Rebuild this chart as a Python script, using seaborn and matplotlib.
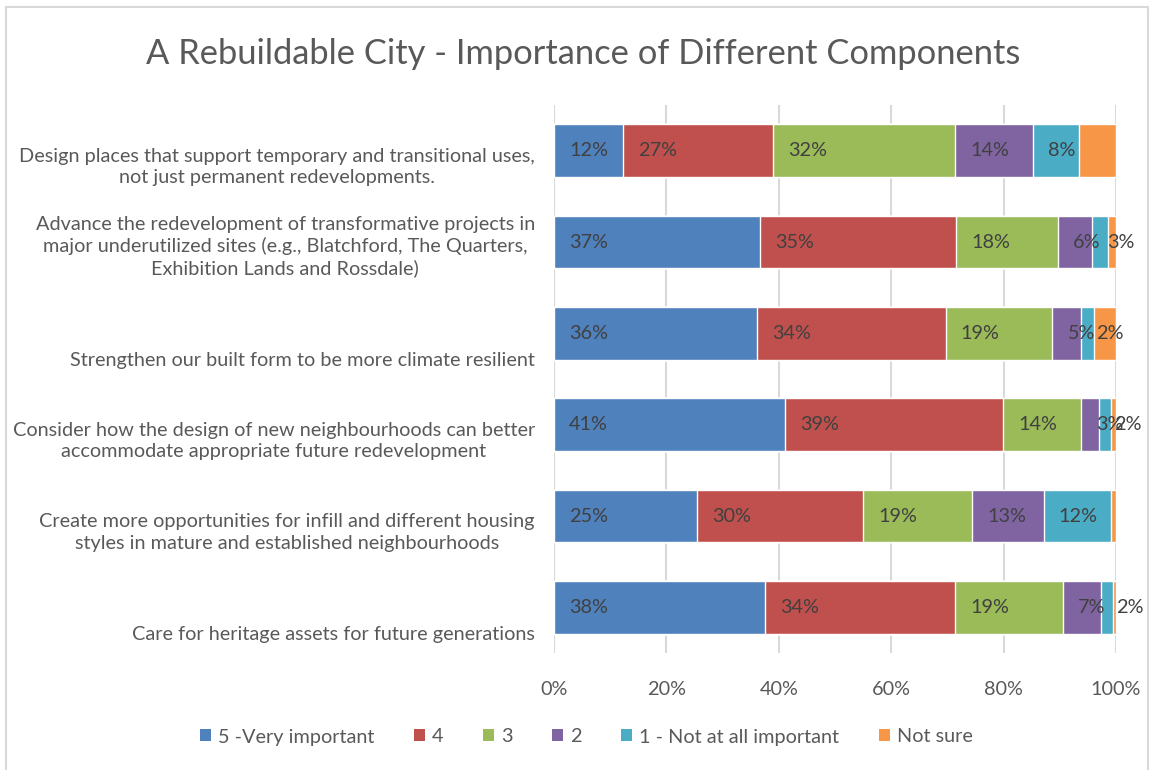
import numpy as np
import pandas as pd
import matplotlib.pyplot as plt
import seaborn as sns
from matplotlib.patches import Patch
from matplotlib.lines import Line2D
import matplotlib.transforms as mtransforms

# Survey components (top to bottom)
components = [
    "Design places that support temporary and transitional uses,\nnot just permanent redevelopments.",
    "Advance the redevelopment of transformative projects in\nmajor underutilized sites (e.g., Blatchford, The Quarters,\nExhibition Lands and Rossdale)",
    "Strengthen our built form to be more climate resilient",
    "Consider how the design of new neighbourhoods can better\naccommodate appropriate future redevelopment",
    "Create more opportunities for infill and different housing\nstyles in mature and established neighbourhoods",
    "Care for heritage assets for future generations",
]

responses = ["5 -Very important", "4", "3", "2", "1 - Not at all important", "Not sure"]

# share of respondents (%) per response, one value per component
very_important = [12.3, 36.7, 36.1, 41.1, 25.4, 37.6]
four = [26.7, 34.9, 33.6, 38.8, 29.6, 33.8]
three = [32.4, 18.1, 19.0, 13.9, 19.4, 19.2]
two = [13.9, 6.0, 5.0, 3.2, 12.7, 6.8]
not_at_all = [8.2, 2.8, 2.4, 2.1, 12.0, 2.1]
not_sure = [6.5, 1.5, 3.9, 0.9, 0.9, 0.5]

colors = ["#4F81BD", "#C0504D", "#9BBB59", "#8064A2", "#4BACC6", "#F79646"]

df = pd.DataFrame(
    [very_important, four, three, two, not_at_all, not_sure],
    index=responses,
    columns=components,
).T
cum = df.cumsum(axis=1)

sns.set_style("white")
plt.rcParams["font.family"] = ["Lato", "DejaVu Sans"]
text_grey = "#595959"
fs = 14.3

fig = plt.figure(figsize=(11.54, 7.7), dpi=100)
ax = fig.add_axes([554 / 1154, 1 - 653 / 770, 562 / 1154, 548 / 770])

# stacked bars: draw the cumulative totals from the back to the front
for resp, col in reversed(list(zip(responses, colors))):
    sns.barplot(x=cum[resp].values, y=components, color=col, orient="h",
                width=0.58, ax=ax, saturation=1, zorder=3)

# data labels at the inside base of each segment (none on "Not sure")
lab_trans = ax.transData + mtransforms.ScaledTranslation(15 / 100, 0, fig.dpi_scale_trans)
for i, comp in enumerate(components):
    left = 0
    for resp in responses:
        v = df.loc[comp, resp]
        if resp != "Not sure":
            ax.text(left, i, f"{round(v):.0f}%", ha="left", va="center",
                    fontsize=fs, color="#404040", zorder=5, transform=lab_trans)
        left += v

ax.set_xlim(0, 100)
ax.set_ylim(5.5, -0.5)
ax.set_xticks(np.arange(0, 101, 20))
ax.set_xticklabels([f"{t}%" for t in range(0, 101, 20)], fontsize=fs, color=text_grey)
ax.tick_params(axis="x", length=0, pad=20)
ax.set_yticks([])
ax.set_ylabel("")
ax.set_xlabel("")
ax.grid(axis="x", color="#d9d9d9", linewidth=1.5, zorder=0)
for s in ax.spines.values():
    s.set_visible(False)

# category labels, centred text sitting at the bottom of each band
trans = mtransforms.blended_transform_factory(ax.transAxes, ax.transData)
for i, comp in enumerate(components):
    ax.text(-0.034, i + 0.39, comp, transform=trans, ha="right", va="bottom",
            multialignment="center", fontsize=fs, color=text_grey, linespacing=1.3)

fig.suptitle("A Rebuildable City - Importance of Different Components",
             x=0.505, y=0.95, fontsize=24.8, color=text_grey)

handles = [Patch(facecolor=c, edgecolor="none") for c in colors]
fig.legend(handles, responses, loc="center", bbox_to_anchor=(0.508, 1 - 737 / 770),
           ncol=6, frameon=False, fontsize=fs, labelcolor=text_grey,
           handlelength=0.55, handleheight=0.55, handletextpad=0.35, columnspacing=2.0)

# light chart border
for xs, ys in [([6, 6], [7, 770]), ([6, 1148], [7, 7]), ([1148, 1148], [7, 770])]:
    fig.add_artist(Line2D([x / 1154 for x in xs], [1 - y / 770 for y in ys],
                          color="#d9d9d9", linewidth=1.5))

fig.savefig("out.png", dpi=100)
